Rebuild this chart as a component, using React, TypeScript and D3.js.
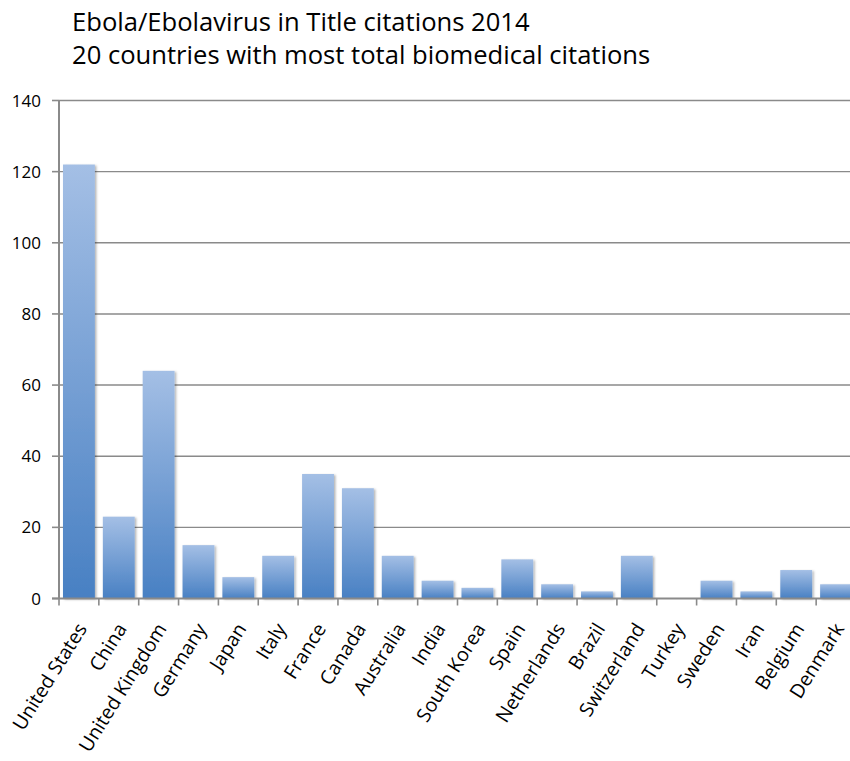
import React from "react";
import * as d3 from "d3";

const categories = ["United States","China","United Kingdom","Germany","Japan","Italy","France","Canada","Australia","India","South Korea","Spain","Netherlands","Brazil","Switzerland","Turkey","Sweden","Iran","Belgium","Denmark"];
const values = [122,23,64,15,6,12,35,31,12,5,3,11,4,2,12,0,5,2,8,4];
const yTicks = [0,20,40,60,80,100,120,140];
const titleLines = ["Ebola/Ebolavirus in Title citations 2014","20 countries with most total biomedical citations"];

const W = 850, H = 761;
const FONT = "'Open Sans', sans-serif";

export default function App() {
  const x = d3.scaleBand<string>().domain(categories).range([59, 59 + 39.85 * 20]).padding(0);
  const y = d3.scaleLinear().domain([0, 140]).range([598.5, 100.5]);
  const bw = x.bandwidth();
  const barW = bw * 0.8;
  return (
    <div style={{ position: "absolute", left: 0, top: 0 }}>
      <svg width={W} height={H} style={{ display: "block", background: "#fff" }}>
        <defs>
          <linearGradient id="barGrad" x1="0" y1="0" x2="0" y2="1">
            <stop offset="0" stopColor="#a4bfe5" />
            <stop offset="1" stopColor="#4880c3" />
          </linearGradient>
          <filter id="shadow" x="-20%" y="-5%" width="150%" height="115%">
            <feDropShadow dx="1.5" dy="1" stdDeviation="1.2" floodColor="#000" floodOpacity="0.3" />
          </filter>
        </defs>
        {titleLines.map((t, i) => (
          <text key={i} x={72} y={30.5 + i * 33} fontFamily={FONT} fontSize={25.6} fill="#000">{t}</text>
        ))}
        {yTicks.map((t) => (
          <g key={t}>
            {t > 0 && <line x1={59} x2={W} y1={y(t)} y2={y(t)} stroke="#8a8a8a" strokeWidth={1.4} />}
            <line x1={52} x2={59} y1={y(t)} y2={y(t)} stroke="#8a8a8a" strokeWidth={1.6} />
            <text x={41} y={y(t)} dy="0.36em" textAnchor="end" fontFamily={FONT} fontSize={17} fill="#000">{t}</text>
          </g>
        ))}
        <g filter="url(#shadow)">
          {categories.map((c, i) => values[i] > 0 && (
            <rect key={c} x={(x(c) as number) + (bw - barW) / 2} y={y(values[i])} width={barW} height={y(0) - y(values[i])} fill="url(#barGrad)" />
          ))}
        </g>
        <line x1={59} x2={59} y1={100} y2={599} stroke="#8a8a8a" strokeWidth={2} />
        <line x1={52} x2={W} y1={y(0)} y2={y(0)} stroke="#8a8a8a" strokeWidth={2.2} />
        {categories.map((c) => (
          <line key={c} x1={(x(c) as number) + bw} x2={(x(c) as number) + bw} y1={y(0)} y2={y(0) + 7} stroke="#8a8a8a" strokeWidth={1.6} />
        ))}
        <line x1={59} x2={59} y1={y(0)} y2={y(0) + 7} stroke="#8a8a8a" strokeWidth={1.6} />
        {categories.map((c) => {
          const cx = (x(c) as number) + bw / 2;
          return (
            <text key={c} transform={`translate(${cx + 3},${625}) rotate(-58)`} textAnchor="end" dy="0.35em" fontFamily={FONT} fontSize={19.5} fill="#000">{c}</text>
          );
        })}
      </svg>
    </div>
  );
}
